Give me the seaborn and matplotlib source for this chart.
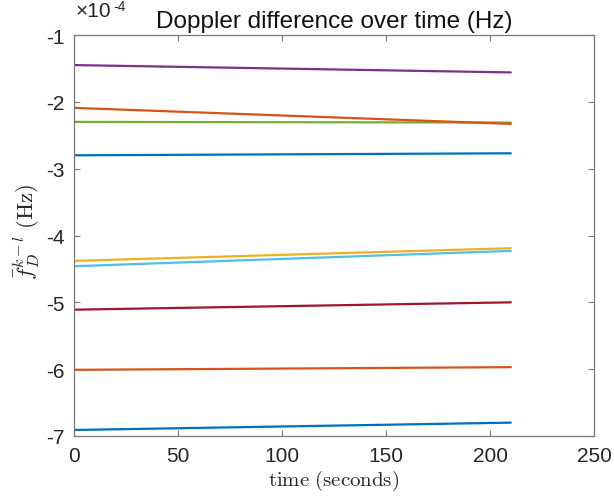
import numpy as np
import pandas as pd
import matplotlib
matplotlib.use("Agg")
import matplotlib.pyplot as plt
import seaborn as sns

# ---- data, values in Hz ----
time_points = [0, 210]
series_names = ["s1", "s2", "s3", "s4", "s5", "s6", "s7", "s8", "s9"]
start_vals = [-2.80e-4, -6.01e-4, -4.38e-4, -1.45e-4, -2.30e-4, -4.46e-4, -5.11e-4, -6.91e-4, -2.09e-4]
end_vals   = [-2.77e-4, -5.97e-4, -4.19e-4, -1.56e-4, -2.31e-4, -4.23e-4, -5.00e-4, -6.80e-4, -2.33e-4]
colors = ["#0072BD", "#D95319", "#EDB120", "#7E2F8E", "#77AC30",
          "#4DBEEE", "#A2142F", "#0072BD", "#D95319"]
x_ticks = [0, 50, 100, 150, 200, 250]
y_ticks = [-7e-4, -6e-4, -5e-4, -4e-4, -3e-4, -2e-4, -1e-4]
y_scale_exp = -4

rows = []
for name, s, e in zip(series_names, start_vals, end_vals):
    rows.append({"series": name, "time": time_points[0], "value": s})
    rows.append({"series": name, "time": time_points[1], "value": e})
df = pd.DataFrame(rows)

sns.set_theme(style="white")
plt.rcParams["font.family"] = ["Liberation Sans", "DejaVu Sans"]
plt.rcParams["axes.unicode_minus"] = False
plt.rcParams["mathtext.fontset"] = "cm"

fig = plt.figure(figsize=(6.14, 5.02), dpi=100)
ax = fig.add_axes([74/614, 1-437/502, (594-74)/614, (437-36)/502])

sns.lineplot(data=df, x="time", y="value", hue="series", hue_order=series_names,
             palette=colors, legend=False, linewidth=1.6, ax=ax, estimator=None,
             sort=False)

ax.set_xlim(0, 250)
ax.set_ylim(-7e-4, -1e-4)
ax.set_xticks(x_ticks)
ax.set_yticks(y_ticks)
ax.yaxis.set_major_formatter(
    matplotlib.ticker.FuncFormatter(lambda v, p: f"{v / 10**y_scale_exp:g}"))

axis_col = "#7a7a7a"
text_col = "#262626"
for sp in ax.spines.values():
    sp.set_visible(True)
    sp.set_color(axis_col)
    sp.set_linewidth(0.9)
ax.tick_params(direction="in", length=4, width=0.8, color=axis_col,
               labelsize=15, labelcolor=text_col, top=True, right=True,
               bottom=True, left=True, pad=7)

# exponent label (MATLAB style)
ax.annotate("×10", xy=(0, 1), xycoords="axes fraction", xytext=(1, 13.5),
            textcoords="offset points", fontsize=15, color=text_col,
            ha="left", va="baseline")
ax.annotate(f"{y_scale_exp}", xy=(0, 1), xycoords="axes fraction", xytext=(28.5, 18),
            textcoords="offset points", fontsize=10, color=text_col,
            ha="left", va="baseline")

ax.set_title("Doppler difference over time (Hz)", fontsize=17.5, color="#111111", pad=6)
ax.set_xlabel(r"$\mathrm{time\ (seconds)}$", fontsize=15, color=text_col, labelpad=2)
ax.set_ylabel(r"$\bar{f}_D^{k-l}\ (\mathrm{Hz})$", fontsize=16.5, color=text_col)
ax.yaxis.set_label_coords(-0.0615, 0.511)

fig.savefig("out.png", dpi=100)
